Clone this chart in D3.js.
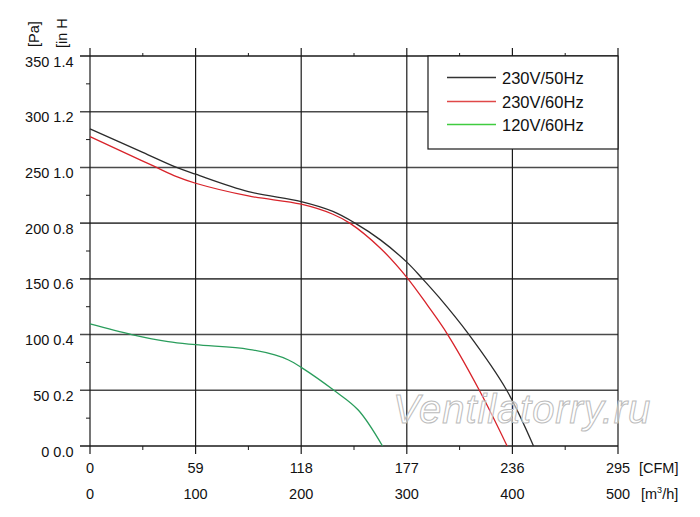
<!DOCTYPE html>
<html lang="ru">
<head>
  <meta charset="UTF-8">
  <title>Fan curve</title>
  <script src="https://d3js.org/d3.v7.min.js"></script>
  <style>
    body { margin: 0; background: #fff; }
    svg text { font-family: "Liberation Sans", Arial, sans-serif; fill: #111; }
    .lbl { font-size: 14.5px; }
    .leg { font-size: 16.5px; }
    .curve { fill: none; stroke-width: 1.3px; }
  </style>
</head>
<body>
  <div id="chart"></div>
  <script>
    // значения (расход m3/h, давление Pa)
    const flow50 = [0, 50, 82, 100, 150, 200, 230, 251, 275, 300, 314, 330, 358, 394.6, 420];
    const pres50 = [284.6, 263.5, 250, 243.9, 228.3, 219.3, 210.5, 200, 185, 165, 151, 134, 101, 50, 0];

    const flow60 = [0, 50, 63, 82, 100, 150, 200, 230, 246, 275, 300, 320, 338.7, 368.7, 395];
    const pres60 = [277.7, 255.7, 250, 241.7, 235.8, 224.4, 217, 208, 200, 177.5, 151.4, 125.7, 100, 50, 0];

    const flow120 = [0, 39.5, 74, 100, 150, 175, 188, 200, 231, 254, 277];
    const pres120 = [109.5, 100, 93.6, 90.9, 86.8, 81.7, 77.2, 70.6, 50, 32.3, 0];

    const paTicks = [0, 50, 100, 150, 200, 250, 300, 350];
    const inhLabels = ["0.0", "0.2", "0.4", "0.6", "0.8", "1.0", "1.2", "1.4"];
    const m3hTicks = [0, 100, 200, 300, 400, 500];
    const cfmLabels = ["0", "59", "118", "177", "236", "295"];
    const minorX = [50, 150, 250, 350, 450];
    const minorY = [25, 75, 125, 175, 225, 275, 325];

    const series = [
      { name: "230V/50Hz", flow: flow50, pres: pres50, color: "#2b2b2b", legColor: "#333" },
      { name: "230V/60Hz", flow: flow60, pres: pres60, color: "#d8232a", legColor: "#e04848" },
      { name: "120V/60Hz", flow: flow120, pres: pres120, color: "#2a9d5c", legColor: "#40cc40" }
    ];

    const width = 700, height = 517;
    const x = d3.scaleLinear().domain([0, 500]).range([90, 618]);
    const y = d3.scaleLinear().domain([0, 350]).range([446, 56]);

    const svg = d3.select("#chart").append("svg")
      .attr("width", width)
      .attr("height", height);

    // сетка: горизонтальные линии (с выносом влево)
    svg.append("g").selectAll("line")
      .data(paTicks)
      .join("line")
      .attr("x1", 80).attr("x2", x(500))
      .attr("y1", d => y(d)).attr("y2", d => y(d))
      .attr("stroke", d => (d === 0 || d === 350) ? "#1a1a1a" : "#4a4a4a")
      .attr("stroke-width", d => (d === 0 || d === 350) ? 1.3 : 1.6);

    // вертикальные линии
    svg.append("g").selectAll("line")
      .data(m3hTicks)
      .join("line")
      .attr("x1", d => x(d)).attr("x2", d => x(d))
      .attr("y1", y(350) - 8).attr("y2", y(0) + 8)
      .attr("stroke", "#1a1a1a")
      .attr("stroke-width", 1.2);

    // мелкие засечки
    svg.append("g").selectAll("line")
      .data(minorY)
      .join("line")
      .attr("x1", x(0) - 4).attr("x2", x(0))
      .attr("y1", d => y(d)).attr("y2", d => y(d))
      .attr("stroke", "#1a1a1a");

    svg.append("g").selectAll("line")
      .data(minorX)
      .join("line")
      .attr("x1", d => x(d)).attr("x2", d => x(d))
      .attr("y1", y(0)).attr("y2", y(0) + 4)
      .attr("stroke", "#1a1a1a");

    svg.append("g").selectAll("line")
      .data(minorX)
      .join("line")
      .attr("x1", d => x(d)).attr("x2", d => x(d))
      .attr("y1", y(350) - 3).attr("y2", y(350))
      .attr("stroke", "#1a1a1a");

    // подписи оси Y
    svg.append("g").selectAll("text")
      .data(paTicks)
      .join("text")
      .attr("class", "lbl")
      .attr("x", 73.5)
      .attr("y", d => y(d) + 10.5)
      .attr("text-anchor", "end")
      .text((d, i) => d + " " + inhLabels[i]);

    svg.append("text")
      .attr("class", "lbl")
      .attr("transform", "translate(39,47) rotate(-90)")
      .text("[Pa]");

    svg.append("text")
      .attr("class", "lbl")
      .attr("transform", "translate(67,48) rotate(-90)")
      .text("[in H");

    // подписи оси X
    svg.append("g").selectAll("text")
      .data(m3hTicks)
      .join("text")
      .attr("class", "lbl")
      .attr("x", d => x(d))
      .attr("y", 473)
      .attr("text-anchor", "middle")
      .text((d, i) => cfmLabels[i]);

    svg.append("g").selectAll("text")
      .data(m3hTicks)
      .join("text")
      .attr("class", "lbl")
      .attr("x", d => x(d))
      .attr("y", 499)
      .attr("text-anchor", "middle")
      .text(d => d);

    svg.append("text")
      .attr("class", "lbl")
      .attr("x", 639).attr("y", 473)
      .text("[CFM]");

    const unit = svg.append("text")
      .attr("class", "lbl")
      .attr("x", 641).attr("y", 499);
    unit.append("tspan").text("[m");
    unit.append("tspan").attr("dy", -6).style("font-size", "9px").text("3");
    unit.append("tspan").attr("dy", 6).text("/h]");

    // кривые
    const line = d3.line()
      .x(d => x(d[0]))
      .y(d => y(d[1]))
      .curve(d3.curveCatmullRom.alpha(0.5));

    svg.append("g").selectAll("path")
      .data(series)
      .join("path")
      .attr("class", "curve")
      .attr("stroke", d => d.color)
      .attr("d", d => line(d.flow.map((f, i) => [f, d.pres[i]])));

    // водяной знак
    svg.append("text")
      .attr("x", 393).attr("y", 423)
      .style("font-size", "40px")
      .style("font-style", "italic")
      .style("letter-spacing", "0.9px")
      .style("fill", "#ffffff")
      .style("fill-opacity", 0.55)
      .style("stroke", "#bcbcbc")
      .style("stroke-width", 1)
      .text("Ventilatorry.ru");

    // легенда
    const leg = svg.append("g");
    leg.append("rect")
      .attr("x", 428).attr("y", y(350))
      .attr("width", x(500) - 428).attr("height", 93)
      .attr("fill", "#fff")
      .attr("stroke", "#1a1a1a")
      .attr("stroke-width", 1.2);

    const rows = leg.selectAll("g.row")
      .data(series)
      .join("g")
      .attr("class", "row")
      .attr("transform", (d, i) => `translate(0,${[77.5, 101.5, 124.5][i]})`);

    rows.append("line")
      .attr("x1", 447).attr("x2", 496)
      .attr("stroke", d => d.legColor)
      .attr("stroke-width", 1.3);

    rows.append("text")
      .attr("class", "leg")
      .attr("x", 502).attr("y", 6.5)
      .text(d => d.name);
  </script>
</body>
</html>
